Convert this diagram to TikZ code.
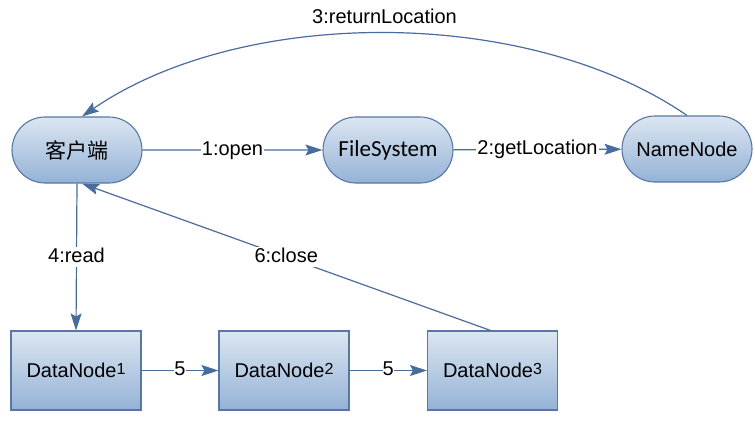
\documentclass[tikz,border=0pt]{standalone}
\usepackage{fontspec}
\setmainfont{Liberation Sans}
\newfontfamily\cjkfont{Noto Sans CJK SC}
\newfontfamily\calfont{Carlito}
\usetikzlibrary{arrows.meta,shapes.misc}
\definecolor{boxtop}{HTML}{DCE6F2}
\definecolor{boxbot}{HTML}{94B2D6}
\definecolor{boxline}{HTML}{5877A5}
\definecolor{arrcol}{HTML}{4A6C9C}
\newcommand{\supdig}[1]{{\fontsize{16}{16}\selectfont\raisebox{3.5pt}{#1}}}
\tikzset{
  base/.style={draw=boxline, line width=1.1pt, top color=boxtop, bottom color=boxbot,
    font=\fontsize{20}{24}\selectfont, text=black, inner sep=0pt},
  pill/.style={base, rounded rectangle, minimum width=130pt, minimum height=66pt},
  dbox/.style={base, rectangle, minimum width=130pt, minimum height=79pt},
  arr/.style={draw=arrcol, line width=1.2pt, -{Stealth[length=17pt,width=11pt,inset=3pt]}},
  lbl/.style={fill=white, inner sep=1pt, text height=14.5pt, text depth=4pt,
    font=\fontsize{20}{24}\selectfont, text=black}
}
\begin{document}
\begin{tikzpicture}[x=1pt,y=-1pt]
\useasboundingbox (0,0) rectangle (755,445);
\node[pill] (client) at (77,150) {\cjkfont\fontsize{21}{24}\selectfont 客户端};
\node[pill] (fs) at (388,150) {\calfont\fontsize{23}{26}\selectfont FileSystem};
\node[pill] (nn) at (687,149) {NameNode};
\node[dbox] (d1) at (76,370.5) {DataNode\supdig{1}};
\node[dbox] (d2) at (284,370.5) {DataNode\supdig{2}};
\node[dbox] (d3) at (492.5,370.5) {DataNode\supdig{3}};

\draw[arr] (client) -- node[lbl] {1:open} (fs);
\draw[arr] (fs) -- node[lbl] {2:getLocation} (nn);
\draw[arr] (nn.north) .. controls +(-160,-110) and +(160,-110) .. ([xshift=5pt]client.north)
  node[pos=0.5, above=4pt, lbl, fill=none] {3:returnLocation};
\draw[arr] (client.south) -- node[lbl] {4:read} (d1.north);
\draw[arr] (d1) -- node[lbl, inner sep=0pt] {5} (d2);
\draw[arr] (d2) -- node[lbl, inner sep=0pt] {5} (d3);
\draw[arr] ([xshift=-2pt]d3.north) -- node[lbl] {6:close} ([xshift=5pt]client.south);
\end{tikzpicture}
\end{document}
